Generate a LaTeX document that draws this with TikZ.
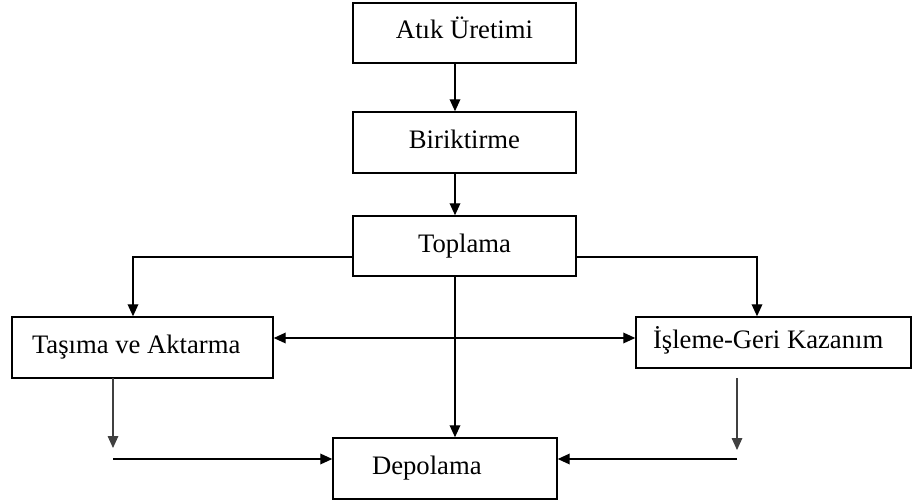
\documentclass[tikz,border=0pt]{standalone}
\usepackage{fontspec}
\setmainfont{Liberation Serif}
\usetikzlibrary{arrows.meta}
\begin{document}
\begin{tikzpicture}[x=0.75pt,y=-0.75pt,
  every node/.style={font=\fontsize{20pt}{22pt}\selectfont},
  box/.style={draw, line width=1.1pt, rectangle, inner sep=0pt,
    text height=13.5pt, text depth=4.5pt, align=center},
  lbox/.style={box, align=flush left},
  arr/.style={line width=1pt, -{Triangle[length=9pt,width=8pt]}},
  thinarr/.style={arr, line width=0.8pt, draw=black!75}]
\useasboundingbox (0,0) rectangle (912,502);
% boxes
\node[box, minimum width=167.25pt, minimum height=45pt] (atik) at (464.5,33) {Atık Üretimi};
\node[box, minimum width=167.25pt, minimum height=45.75pt] (bir) at (464.5,142.5) {Biriktirme};
\node[box, minimum width=167.25pt, minimum height=45pt] (top) at (464.5,246) {Toplama};
\node[lbox, text width=165.75pt, inner xsep=15pt, minimum height=45.75pt] (tas) at (142.5,347.5) {Taşıma ve Aktarma};
\node[lbox, text width=180.75pt, inner xsep=12.75pt, minimum height=38.25pt] (isl) at (773.5,342.5) {İşleme-Geri Kazanım};
\node[lbox, text width=109.5pt, inner xsep=29.25pt, minimum height=45.75pt] (dep) at (445,468.5) {Depolama};
% helper coordinates
\coordinate (ax) at (455,0);
\coordinate (yl) at (0,257);
\coordinate (xl) at (133,0);
\coordinate (xr) at (757,0);
\coordinate (m) at (395,338);
\coordinate (ts) at (113,378);
\coordinate (te) at (113,448);
\coordinate (tb) at (113,459);
\coordinate (is) at (737,378);
\coordinate (ie) at (737,450);
\coordinate (ib) at (737,459);
% connectors
\draw[arr] (atik.south -| ax) -- (bir.north -| ax);
\draw[arr] (bir.south -| ax) -- (top.north -| ax);
\draw[arr] (top.south -| ax) -- (dep.north -| ax);
\draw[arr] (top.west |- yl) -| (tas.north -| xl);
\draw[arr] (top.east |- yl) -| (isl.north -| xr);
\draw[arr] (m) -- (tas.east |- m);
\draw[arr] (m) -- (isl.west |- m);
\draw[thinarr] (ts) -- (te);
\draw[arr] (tb) -- (dep.west |- tb);
\draw[thinarr] (is) -- (ie);
\draw[arr] (ib) -- (dep.east |- ib);
\end{tikzpicture}
\end{document}
